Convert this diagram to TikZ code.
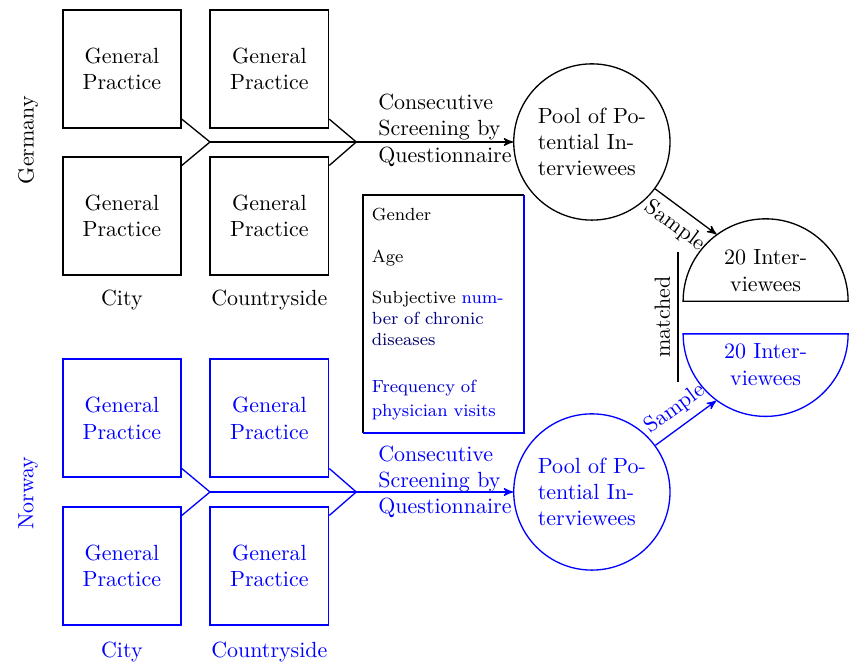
\documentclass[tikz,border=0pt]{standalone}
\usepackage{tikz}
\usetikzlibrary{arrows, positioning, shapes.geometric}

\begin{document}
\begin{tikzpicture}[->,>=stealth',
	gpbox/.style={align=center, draw, thick, minimum width=1.89cm, minimum height=1.89cm},
	pool/.style={circle, draw, semithick, align=left, minimum size=2.5cm, inner sep=0pt},
	half/.style={semicircle, draw, semithick, align=center, minimum width=2.64cm, inner sep=1pt},
	feed/.style={-, semithick}]
	\useasboundingbox (0, 0) rectangle (13.616, 10.672);
	% Germany
	\node[rotate=90] at (0.45, 8.43) (label-g) {Germany};
	\node[gpbox] at (1.95, 9.57) (gp-g1) {General\\Practice};
	\node[gpbox] at (4.31, 9.57) (gp-g2) {General\\Practice};
	\node[gpbox] at (1.95, 7.22) (gp-g3) {General\\Practice};
	\node[gpbox] at (4.31, 7.22) (gp-g4) {General\\Practice};
	\node at (1.95, 5.87) (city-g) {City};
	\node at (4.31, 5.87) (country-g) {Countryside};
	\coordinate (join-g1) at (3.36, 8.4);
	\coordinate (join-g2) at (5.70, 8.4);
	\node[align=left, anchor=west] at (5.93, 8.59) (screen-g) {Consecutive\\Screening by\\Questionnaire};
	\node[pool] at (9.47, 8.4) (pool-g) {Pool of Po-\\tential In-\\terviewees};
	\node[half, anchor=chord center] at (12.25, 5.84) (interv-g) {20 Inter-\\viewees};
	\draw[feed] (gp-g1.-40) -- (join-g1);
	\draw[feed] (gp-g3.40) -- (join-g1);
	\draw[feed] (gp-g2.-40) -- (join-g2);
	\draw[feed] (gp-g4.40) -- (join-g2);
	\draw[semithick] (join-g1) -- (pool-g);
	\draw[semithick] (pool-g) -- node[below, sloped] {Sample} (interv-g);

	% Norway
	\begin{scope}[blue]
	\node[rotate=90] at (0.45, 2.78) (label-n) {Norway};
	\node[gpbox] at (1.95, 3.98) (gp-n1) {General\\Practice};
	\node[gpbox] at (4.31, 3.98) (gp-n2) {General\\Practice};
	\node[gpbox] at (1.95, 1.62) (gp-n3) {General\\Practice};
	\node[gpbox] at (4.31, 1.62) (gp-n4) {General\\Practice};
	\node at (1.95, 0.24) (city-n) {City};
	\node at (4.31, 0.24) (country-n) {Countryside};
	\coordinate (join-n1) at (3.36, 2.8);
	\coordinate (join-n2) at (5.70, 2.8);
	\node[align=left, anchor=west] at (5.93, 2.96) (screen-n) {Consecutive\\Screening by\\Questionnaire};
	\node[pool] at (9.47, 2.8) (pool-n) {Pool of Po-\\tential In-\\terviewees};
	\node[half, shape border rotate=180, anchor=chord center] at (12.25, 5.34) (interv-n) {20 Inter-\\viewees};
	\draw[feed] (gp-n1.-40) -- (join-n1);
	\draw[feed] (gp-n3.40) -- (join-n1);
	\draw[feed] (gp-n2.-40) -- (join-n2);
	\draw[feed] (gp-n4.40) -- (join-n2);
	\draw[semithick] (join-n1) -- (pool-n);
	\draw[semithick] (pool-n) -- node[above, sloped] {Sample} (interv-n);
	\end{scope}

	% matching criteria
	\coordinate (match-top) at (10.85, 6.64);
	\coordinate (match-bot) at (10.85, 4.56);
	\draw[feed] (match-bot) -- node[above, sloped] {matched} (match-top);
	\node[text width=2.3cm, minimum width=2.56cm, minimum height=3.79cm, inner sep=0.13cm, align=left, font=\footnotesize] at (7.1, 5.65) (factors) {Gender\\[9.5pt]Age\\[9.5pt]Subjective \textcolor{blue}{num-}\\\textcolor{black!50!blue}{ber of chronic}\\\textcolor{black!60!blue}{diseases}\\[12pt]\textcolor{blue!80!black}{Frequency of}\\[1pt]\textcolor{blue}{physician visits}};
	\draw[feed, thick] (factors.south west) -- (factors.north west) -- (factors.north east);
	\draw[feed, thick, blue] (factors.north east) -- (factors.south east) -- (factors.south west);
\end{tikzpicture}
\end{document}
